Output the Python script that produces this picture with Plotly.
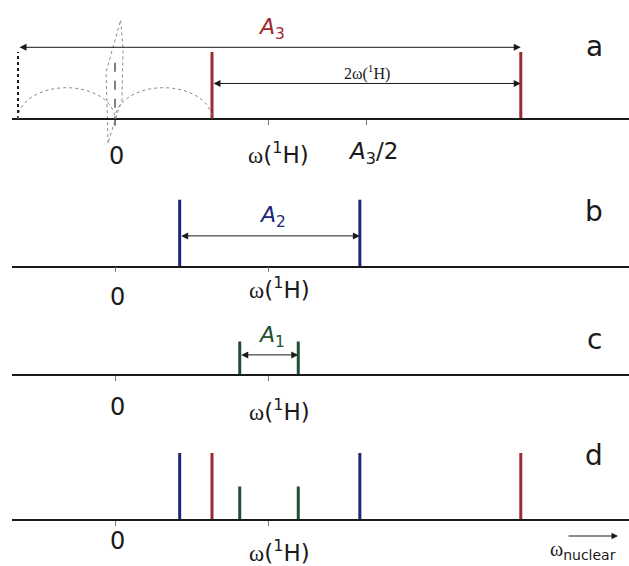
import plotly.graph_objects as go

# ---- spectrum data (frequency in units of the proton Larmor frequency) ----
omega_H = 1.0                      # position of the omega(1H) tick
A3_half = 1.63                     # position of the A3/2 tick

# line positions and intensities for each coupling regime
pos_a = [0.63, 2.635]              # strong coupling, A3 > 2 omega(1H)
int_a = [1.0, 1.0]
pos_b = [0.42, 1.59]               # intermediate coupling A2
int_b = [1.0, 1.0]
pos_c = [0.81, 1.19]               # weak coupling A1
int_c = [0.5, 0.5]

# mirrored component and broad humps of the strong-coupling case
mirror_pos = [-0.63]
mirror_int = [1.0]
hump_centers = [-0.315, 0.315]
hump_halfwidth = 0.315
hump_height = 0.467
center_dash = [0.84, -0.12]        # dashed line at zero frequency
leaf_x = [-0.045, -0.058, 0.037, 0.052, 0.045, 0.0, -0.045]
leaf_y = [-0.36, 0.70, 1.48, 1.06, 0.28, -0.015, -0.36]

# heights of the double arrows
arrow_a_outer = 1.07
arrow_a_inner = 0.53
arrow_b = 0.46
arrow_c = 0.30

RED = "#9e2a30"
BLUE = "#1b2878"
GREEN = "#1f5032"
INK = "#1a1a1a"

# ---- layout geometry ----
W, H = 629, 566
S = 67.0                              # pixels per intensity unit
X_RANGE = [-0.6688, 3.3377]
X_DOMAIN = [12 / W, 1.0]
baselines = [119, 266.7, 375, 520]    # pixel rows of the four baselines
panels = [(0, 170), (172, 305), (310, 425), (428, 566)]


def py(p):
    return 1 - p / H


fig = go.Figure()
layout = dict(width=W, height=H, margin=dict(l=0, r=0, t=0, b=0),
              paper_bgcolor="white", plot_bgcolor="white", showlegend=False)

tickvals = [[0, omega_H, A3_half], [0, omega_H], [0, omega_H], [0, omega_H]]
for i, (base, (top, bot)) in enumerate(zip(baselines, panels)):
    k = "" if i == 0 else str(i + 1)
    layout["xaxis" + k] = dict(
        domain=X_DOMAIN, range=X_RANGE, anchor="free", position=py(base),
        showline=True, linecolor=INK, linewidth=1.5, ticks="outside",
        ticklen=5, tickwidth=1, tickcolor="#777", tickvals=tickvals[i],
        showticklabels=False, showgrid=False, zeroline=False, fixedrange=True)
    layout["yaxis" + k] = dict(
        domain=[py(bot), py(top)], range=[(base - bot) / S, (base - top) / S],
        anchor="x" + k, visible=False, showgrid=False, zeroline=False,
        fixedrange=True)
fig.update_layout(**layout)


def sticks(pos, inten, color, panel, dash="solid", width=3):
    xs, ys = [], []
    for p, h in zip(pos, inten):
        xs += [p, p, None]
        ys += [0, h, None]
    k = "" if panel == 0 else str(panel + 1)
    fig.add_trace(go.Scatter(x=xs, y=ys, mode="lines", hoverinfo="skip",
                             line=dict(color=color, width=width, dash=dash),
                             xaxis="x" + k, yaxis="y" + k))


# panel a: strong coupling
sticks(mirror_pos, mirror_int, INK, 0, dash="dot", width=2)
fig.add_trace(go.Scatter(x=[0, 0], y=center_dash, mode="lines", hoverinfo="skip",
                         line=dict(color="#555", width=1.5, dash="dash"),
                         xaxis="x", yaxis="y"))
fig.add_trace(go.Scatter(x=leaf_x, y=leaf_y, mode="lines", hoverinfo="skip",
                         line=dict(color="#8a8a8a", width=1, dash="dot"),
                         xaxis="x", yaxis="y"))
kq = 0.5523
for c in hump_centers:
    r, h = hump_halfwidth, hump_height
    path = (f"M {c - r},0 C {c - r},{kq * h} {c - kq * r},{h} {c},{h} "
            f"C {c + kq * r},{h} {c + r},{kq * h} {c + r},0")
    fig.add_shape(type="path", path=path, xref="x", yref="y",
                  line=dict(color="#8a8a8a", width=1, dash="dot"))
sticks(pos_a, int_a, RED, 0)

# panels b, c and the combined spectrum d
sticks(pos_b, int_b, BLUE, 1)
sticks(pos_c, int_c, GREEN, 2)
sticks(pos_b, int_b, BLUE, 3)
sticks(pos_a, int_a, RED, 3)
sticks(pos_c, int_c, GREEN, 3)


def double_arrow(x0, x1, y, panel):
    k = "" if panel == 0 else str(panel + 1)
    fig.add_annotation(x=x1, y=y, ax=x0, ay=y, xref="x" + k, yref="y" + k,
                       axref="x" + k, ayref="y" + k, text="", showarrow=True,
                       arrowside="end+start", arrowhead=2, arrowsize=1.4,
                       arrowwidth=1, arrowcolor=INK, standoff=0, startstandoff=0)


double_arrow(mirror_pos[0], pos_a[1], arrow_a_outer, 0)
double_arrow(pos_a[0], pos_a[1], arrow_a_inner, 0)
double_arrow(pos_b[0], pos_b[1], arrow_b, 1)
double_arrow(pos_c[0], pos_c[1], arrow_c, 2)

SANS = "DejaVu Sans"
SERIF = "Liberation Serif"
OMEGA_H = (f"<span style='font-family:{SERIF}'>ω</span>(<sup>1</sup>H)")


def label(text, x, ypx, size, color=INK, family=SANS, xref="x", xshift=0):
    fig.add_annotation(x=x, y=py(ypx), xref=xref, yref="paper", text=text,
                       showarrow=False, xanchor="center", yanchor="middle",
                       xshift=xshift, font=dict(family=family, size=size, color=color))


# tick captions
label("0", 0, 156, 24, xshift=1)
label(OMEGA_H, omega_H, 153, 23, xshift=10)
label("<i>A</i><sub>3</sub>/2", A3_half, 153, 23, xshift=7)
label("0", 0, 297, 24, xshift=2)
label(OMEGA_H, omega_H, 288, 23, xshift=11)
label("0", 0, 407, 24, xshift=2)
label(OMEGA_H, omega_H, 410, 23, xshift=11)
label("0", 0, 541, 24, xshift=2)
label(OMEGA_H, omega_H, 551, 23, xshift=11)

# coupling labels
label("<i>A</i><sub>3</sub>", omega_H, 28, 22, color=RED, xshift=3)
label("2ω(<sup>1</sup>H)", A3_half, 72, 16, family=SERIF, xshift=1)
label("<i>A</i><sub>2</sub>", omega_H, 216, 22, color=BLUE, xshift=4)
label("<i>A</i><sub>1</sub>", omega_H, 336, 22, color=GREEN, xshift=3)

# panel letters
for letter, ypx in zip("abcd", [46, 211, 339, 455]):
    label(letter, 594 / W, ypx, 28, xref="paper")

# frequency direction arrow
fig.add_annotation(x=618 / W, y=py(536), xref="paper", yref="paper",
                   ax=-51, ay=0, text="", showarrow=True, arrowhead=2,
                   arrowsize=1.3, arrowwidth=1, arrowcolor=INK, standoff=0)
label(f"<span style='font-family:{SERIF}'>ω</span><sub>nuclear</sub>",
      583 / W, 550, 20, xref="paper")

fig.write_html("out.html")
